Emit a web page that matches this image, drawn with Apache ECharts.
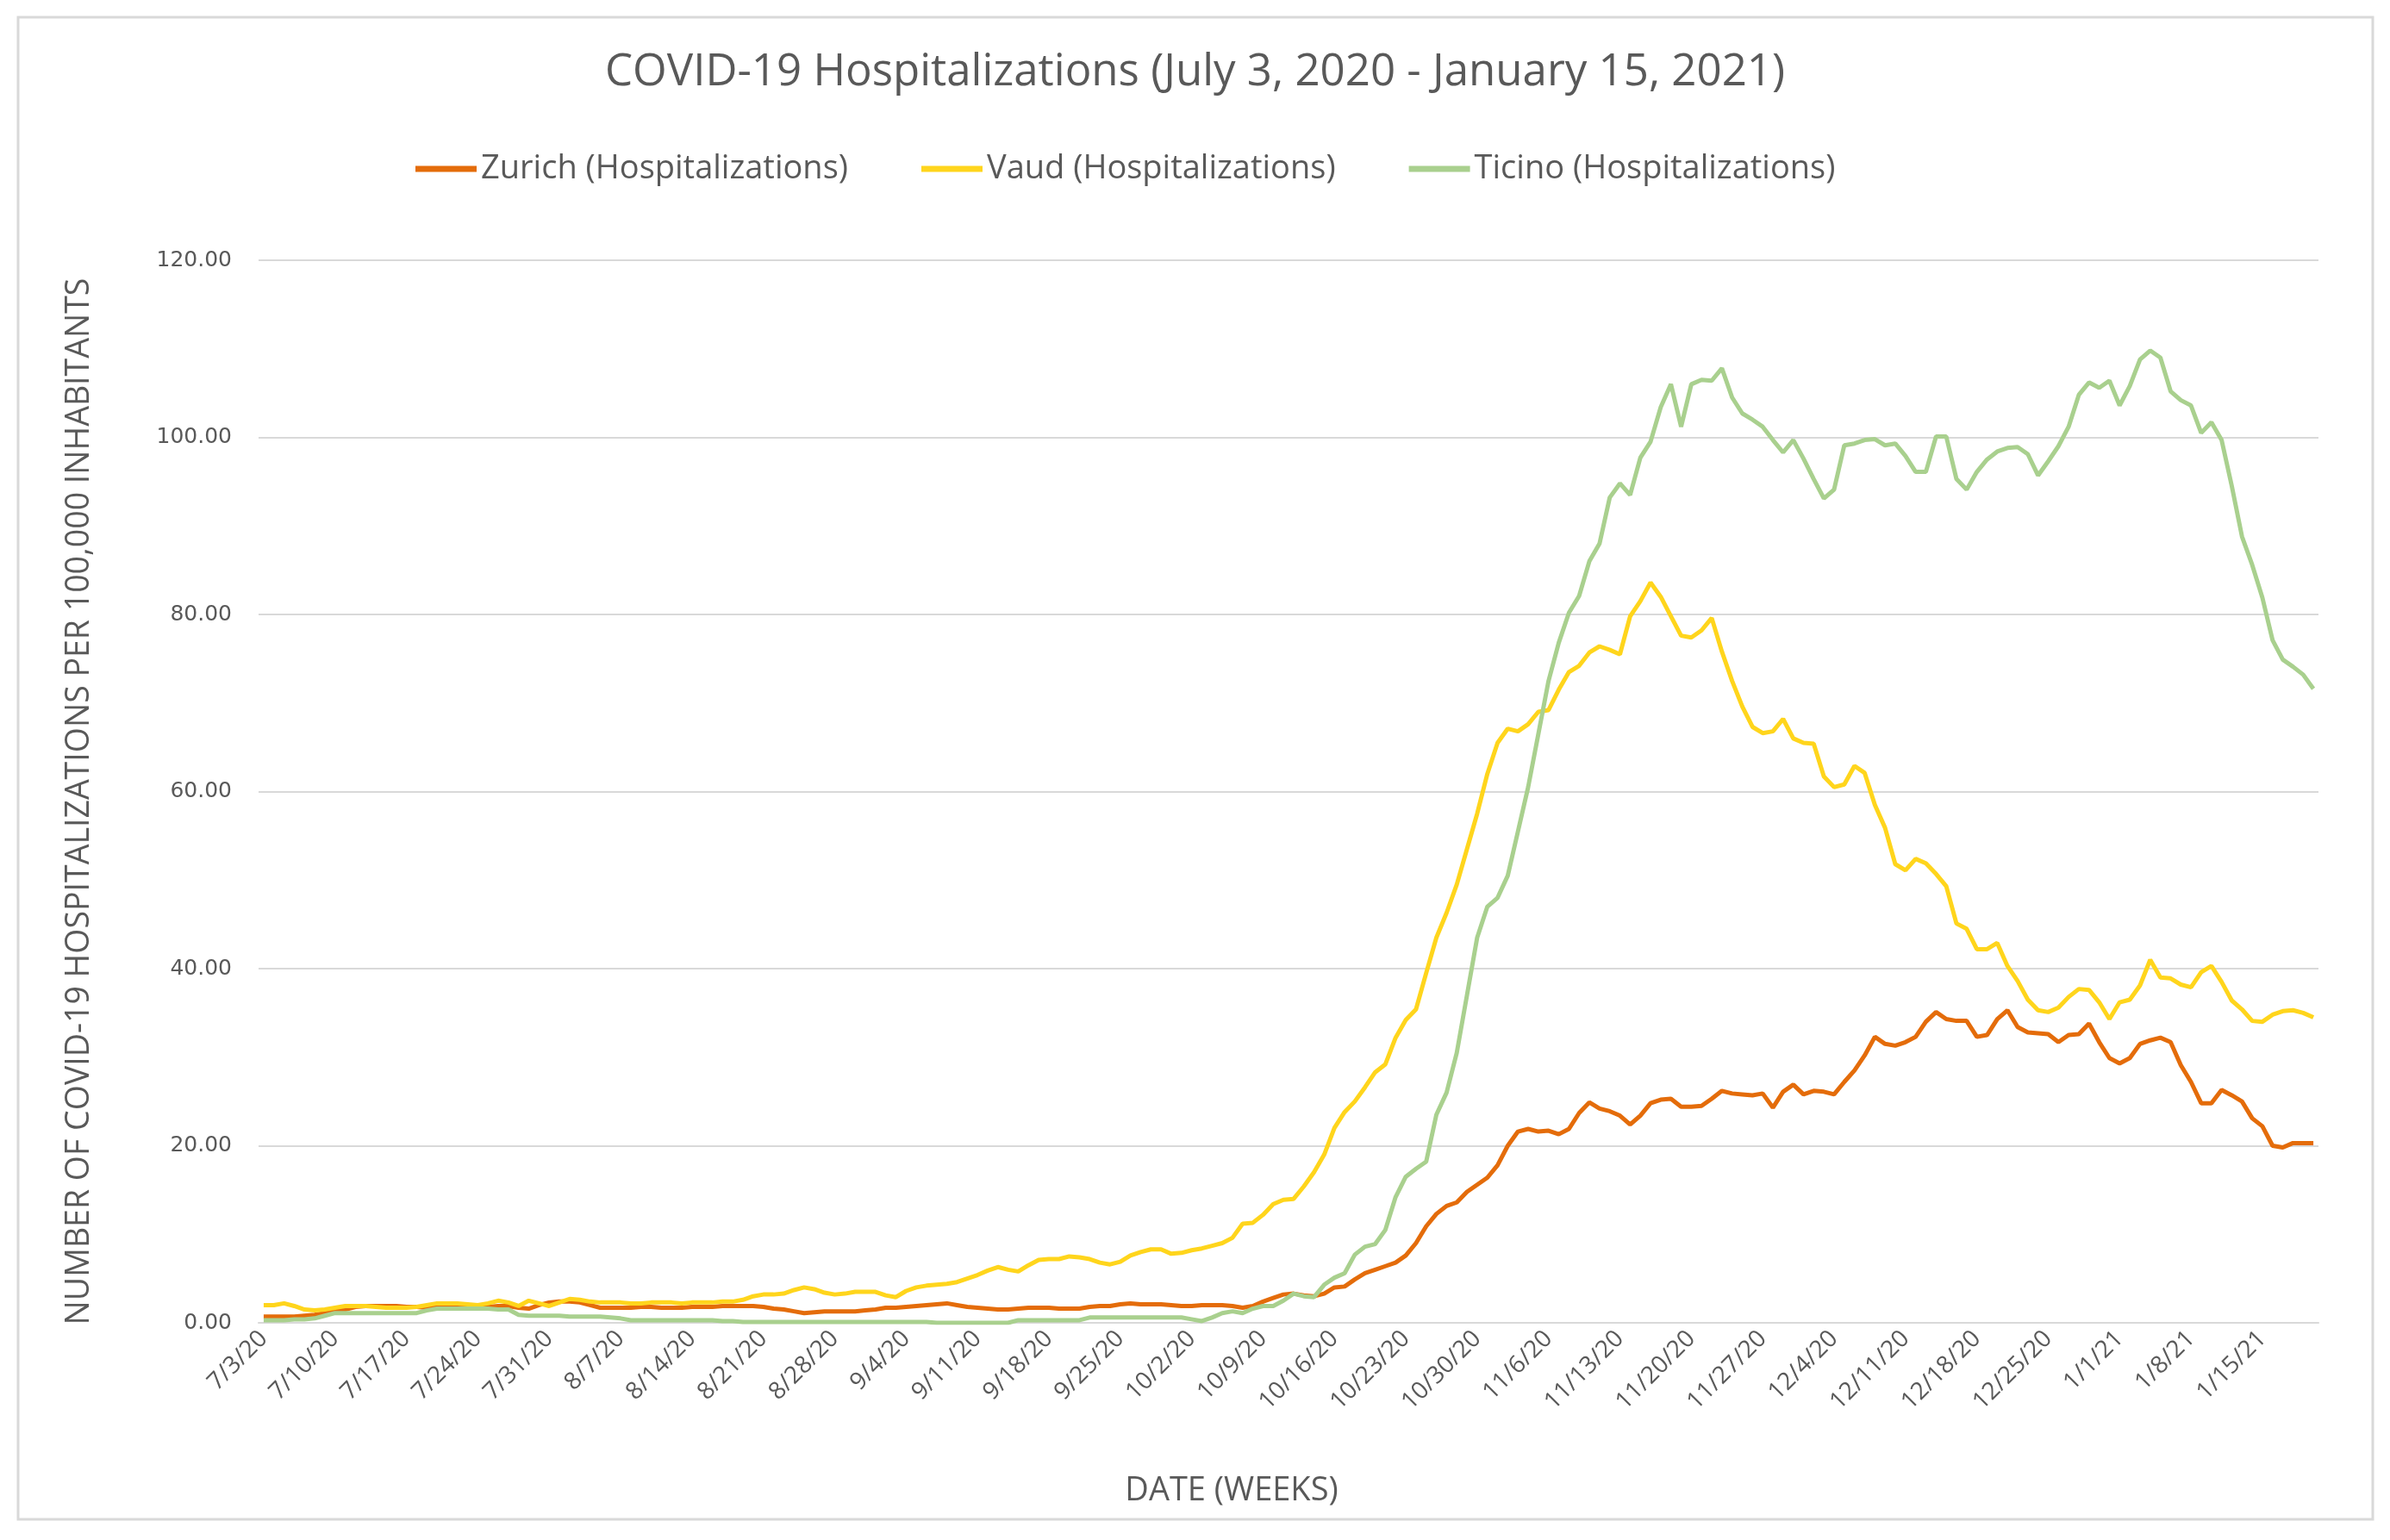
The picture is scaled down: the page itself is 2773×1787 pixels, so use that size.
<!DOCTYPE html>
<html><head><meta charset="utf-8">
<script src="https://cdn.jsdelivr.net/npm/echarts@6/dist/echarts.min.js"></script>
<style>html,body{margin:0;padding:0;background:#fff}#c{width:2773px;height:1787px}</style>
</head><body><div id="c"></div>
<script>
const dates = [
'7/3/20','7/4/20','7/5/20','7/6/20','7/7/20','7/8/20','7/9/20','7/10/20','7/11/20','7/12/20','7/13/20','7/14/20','7/15/20','7/16/20','7/17/20','7/18/20','7/19/20','7/20/20','7/21/20','7/22/20','7/23/20','7/24/20','7/25/20','7/26/20','7/27/20','7/28/20','7/29/20','7/30/20','7/31/20',
'8/1/20','8/2/20','8/3/20','8/4/20','8/5/20','8/6/20','8/7/20','8/8/20','8/9/20','8/10/20','8/11/20','8/12/20','8/13/20','8/14/20','8/15/20','8/16/20','8/17/20','8/18/20','8/19/20','8/20/20','8/21/20','8/22/20','8/23/20','8/24/20','8/25/20','8/26/20','8/27/20','8/28/20','8/29/20','8/30/20','8/31/20',
'9/1/20','9/2/20','9/3/20','9/4/20','9/5/20','9/6/20','9/7/20','9/8/20','9/9/20','9/10/20','9/11/20','9/12/20','9/13/20','9/14/20','9/15/20','9/16/20','9/17/20','9/18/20','9/19/20','9/20/20','9/21/20','9/22/20','9/23/20','9/24/20','9/25/20','9/26/20','9/27/20','9/28/20','9/29/20','9/30/20',
'10/1/20','10/2/20','10/3/20','10/4/20','10/5/20','10/6/20','10/7/20','10/8/20','10/9/20','10/10/20','10/11/20','10/12/20','10/13/20','10/14/20','10/15/20','10/16/20','10/17/20','10/18/20','10/19/20','10/20/20','10/21/20','10/22/20','10/23/20','10/24/20','10/25/20','10/26/20','10/27/20','10/28/20','10/29/20','10/30/20','10/31/20',
'11/1/20','11/2/20','11/3/20','11/4/20','11/5/20','11/6/20','11/7/20','11/8/20','11/9/20','11/10/20','11/11/20','11/12/20','11/13/20','11/14/20','11/15/20','11/16/20','11/17/20','11/18/20','11/19/20','11/20/20','11/21/20','11/22/20','11/23/20','11/24/20','11/25/20','11/26/20','11/27/20','11/28/20','11/29/20','11/30/20',
'12/1/20','12/2/20','12/3/20','12/4/20','12/5/20','12/6/20','12/7/20','12/8/20','12/9/20','12/10/20','12/11/20','12/12/20','12/13/20','12/14/20','12/15/20','12/16/20','12/17/20','12/18/20','12/19/20','12/20/20','12/21/20','12/22/20','12/23/20','12/24/20','12/25/20','12/26/20','12/27/20','12/28/20','12/29/20','12/30/20','12/31/20',
'1/1/21','1/2/21','1/3/21','1/4/21','1/5/21','1/6/21','1/7/21','1/8/21','1/9/21','1/10/21','1/11/21','1/12/21','1/13/21','1/14/21','1/15/21','1/16/21','1/17/21','1/18/21','1/19/21','1/20/21'
];

const zurich = [
0.7,0.7,0.7,0.7,0.8,0.9,1.1,
1.3,1.5,1.8,1.9,1.9,1.9,1.9,
1.8,1.8,1.7,1.7,1.7,1.7,1.7,
1.7,1.8,1.9,1.9,1.7,1.6,2.0,
2.3,2.4,2.4,2.3,2.0,1.7,1.7,
1.7,1.7,1.8,1.8,1.7,1.7,1.7,
1.8,1.8,1.8,1.9,1.9,1.9,1.9,
1.8,1.6,1.5,1.3,1.1,1.2,1.3,
1.3,1.3,1.3,1.4,1.5,1.7,1.7,
1.8,1.9,2.0,2.1,2.2,2.0,1.8,
1.7,1.6,1.5,1.5,1.6,1.7,1.7,
1.7,1.6,1.6,1.6,1.8,1.9,1.9,
2.1,2.2,2.1,2.1,2.1,2.0,1.9,
1.9,2.0,2.0,2.0,
1.9,1.7,1.9,2.4,2.8,3.2,3.3,
3.1,3.0,3.3,4.0,4.1,4.9,5.6,
6.0,6.4,6.8,7.6,9.0,10.9,12.3,
13.2,13.6,14.8,15.6,16.4,17.8,20.0,
21.6,21.9,21.6,21.7,21.3,21.9,23.7,
24.9,24.2,23.9,23.4,22.4,23.4,24.8,
25.2,25.3,24.4,24.4,24.5,25.3,26.2,
25.9,25.8,25.7,25.9,24.3,26.1,26.9,
25.8,26.2,26.1,25.8,27.2,28.5,30.2,
32.3,31.5,31.3,31.7,32.3,34.0,35.1,
34.3,34.1,34.1,32.3,32.5,34.3,35.3,
33.4,32.8,32.7,32.6,31.7,32.5,32.6,
33.8,31.7,29.9,29.3,29.9,31.5,31.9,
32.2,31.7,29.1,27.2,24.8,24.8,26.3,
25.7,25.0,23.1,22.2,20.0,19.8,20.3,
20.3,20.3
];

const vaud = [
2.0,2.0,2.2,1.9,1.5,1.4,1.5,
1.7,1.9,1.9,1.9,1.8,1.7,1.7,
1.7,1.8,2.0,2.2,2.2,2.2,2.1,
2.0,2.2,2.5,2.3,1.9,2.5,2.2,
1.9,2.3,2.7,2.6,2.4,2.3,2.3,
2.3,2.2,2.2,2.3,2.3,2.3,2.2,
2.3,2.3,2.3,2.4,2.4,2.6,3.0,
3.2,3.2,3.3,3.7,4.0,3.8,3.4,
3.2,3.3,3.5,3.5,3.5,3.1,2.9,
3.6,4.0,4.2,4.3,4.4,4.6,5.0,
5.4,5.9,6.3,6.0,5.8,6.5,7.1,
7.2,7.2,7.5,7.4,7.2,6.8,6.6,
6.9,7.6,8.0,8.3,8.3,7.8,7.9,
8.2,8.4,8.7,9.0,9.6,
11.2,11.3,12.2,13.4,13.9,14.0,15.4,
17.0,19.0,22.0,23.8,25.0,26.6,28.3,
29.2,32.2,34.2,35.4,39.5,43.5,46.3,
49.5,53.5,57.5,62.0,65.5,67.1,66.8,
67.6,69.0,69.2,71.5,73.5,74.2,75.7,
76.4,76.0,75.5,79.8,81.5,83.6,82.0,
79.8,77.6,77.4,78.2,79.6,75.8,72.5,
69.6,67.3,66.6,66.8,68.2,66.0,65.5,
65.4,61.7,60.5,60.8,62.9,62.1,58.5,
55.9,51.8,51.1,52.4,51.9,50.7,49.3,
45.1,44.5,42.2,42.2,42.9,40.3,38.6,
36.5,35.3,35.1,35.6,36.8,37.7,37.6,
36.2,34.3,36.2,36.5,38.1,41.0,39.0,
38.9,38.2,37.9,39.6,40.3,38.5,36.4,
35.4,34.1,34.0,34.8,35.2,35.3,35.0,
34.5
];

const ticino = [
0.3,0.3,0.3,0.4,0.4,0.5,0.8,
1.1,1.1,1.1,1.1,1.1,1.1,1.1,
1.1,1.1,1.4,1.6,1.6,1.6,1.6,
1.6,1.6,1.5,1.5,0.9,0.8,0.8,
0.8,0.8,0.7,0.7,0.7,0.7,0.6,
0.5,0.3,0.3,0.3,0.3,0.3,0.3,
0.3,0.3,0.3,0.2,0.2,0.1,0.1,
0.1,0.1,0.1,0.1,0.1,0.1,0.1,
0.1,0.1,0.1,0.1,0.1,0.1,0.1,
0.1,0.1,0.1,0.0,0.0,0.0,0.0,
0.0,0.0,0.0,0.0,0.3,0.3,0.3,
0.3,0.3,0.3,0.3,0.6,0.6,0.6,
0.6,0.6,0.6,0.6,0.6,0.6,0.6,
0.4,
0.2,0.6,1.1,1.3,1.1,1.6,1.9,
1.9,2.5,3.3,3.0,2.9,4.3,5.1,
5.6,7.7,8.6,8.9,10.5,14.2,16.5,
17.4,18.2,23.5,26.0,30.5,37.0,43.5,
47.0,48.0,50.5,55.5,60.5,66.5,72.5,
76.8,80.2,82.1,86.0,88.0,93.2,94.8,
93.5,97.7,99.5,103.4,106.0,101.2,106.0,
106.5,106.4,107.8,104.5,102.7,102.0,101.2,
99.7,98.3,99.7,97.6,95.3,93.1,94.1,
99.1,99.3,99.7,99.8,99.1,99.3,97.9,
96.1,96.1,100.1,100.1,95.3,94.1,96.1,
97.5,98.4,98.8,98.9,98.1,95.7,97.3,
99.0,101.2,104.8,106.2,105.6,106.4,103.6,
105.8,108.8,109.8,109.0,105.2,104.2,103.6,
100.5,101.7,99.7,94.5,88.8,85.6,81.9,
77.1,74.9,74.1,73.2,71.6
];

const seriesNames = ['Zurich (Hospitalizations)','Vaud (Hospitalizations)','Ticino (Hospitalizations)'];
const seriesColors = ['#E46C0A','#FFD51C','#A9D08E'];
const yMin = 0, yMax = 120, yStep = 20;

const chart = echarts.init(document.getElementById('c'), null, {renderer:'canvas'});
const txt = '#595959';
chart.setOption({
  backgroundColor:'#ffffff',
  animation:false,
  graphic:[{type:'rect', silent:true, z:-10, shape:{x:21,y:20,width:2732,height:1743}, style:{fill:null, stroke:'#d9d9d9', lineWidth:3}}],
  title:{text:'COVID-19 Hospitalizations (July 3, 2020 - January 15, 2021)', left:'center', top:54,
    textStyle:{fontFamily:'Open Sans', fontSize:51, fontWeight:'normal', color:txt}},
  legend:{left:477, top:172, icon:'rect', itemWidth:71, itemHeight:7, itemGap:85,
    textStyle:{fontFamily:'Open Sans', fontSize:38, color:txt}, data:seriesNames},
  grid:{left:300, right:83, top:302, bottom:252, containLabel:false},
  xAxis:{type:'category', data:dates, boundaryGap:true,
    axisLine:{lineStyle:{color:'#d9d9d9', width:2}},
    axisTick:{interval:6, length:10, lineStyle:{color:'#d9d9d9', width:2}},
    axisLabel:{interval:6, rotate:45, fontFamily:'Open Sans', fontSize:28, color:txt, margin:14},
    name:'DATE (WEEKS)', nameLocation:'middle', nameGap:176,
    nameTextStyle:{fontFamily:'Open Sans', fontSize:38, color:txt, padding:[0,132,0,0]}},
  yAxis:{type:'value', min:yMin, max:yMax, interval:yStep,
    axisLabel:{formatter:v=>v.toFixed(2), fontFamily:'DejaVu Sans', fontSize:25, color:txt, margin:31},
    splitLine:{lineStyle:{color:'#d9d9d9', width:2}}, axisLine:{show:false}, axisTick:{show:false},
    name:'NUMBER OF COVID-19 HOSPITALIZATIONS PER 100,000 INHABITANTS', nameLocation:'middle', nameRotate:90, nameGap:189,
    nameTextStyle:{fontFamily:'Open Sans', fontSize:37.5, color:txt, padding:[0,23,0,0]}},
  series:[
    {name:seriesNames[0], type:'line', data:zurich, symbol:'none', color:seriesColors[0], lineStyle:{width:5, color:seriesColors[0]}},
    {name:seriesNames[1], type:'line', data:vaud, symbol:'none', color:seriesColors[1], lineStyle:{width:5, color:seriesColors[1]}},
    {name:seriesNames[2], type:'line', data:ticino, symbol:'none', color:seriesColors[2], lineStyle:{width:5, color:seriesColors[2]}}
  ]
});
</script>
</body></html>
